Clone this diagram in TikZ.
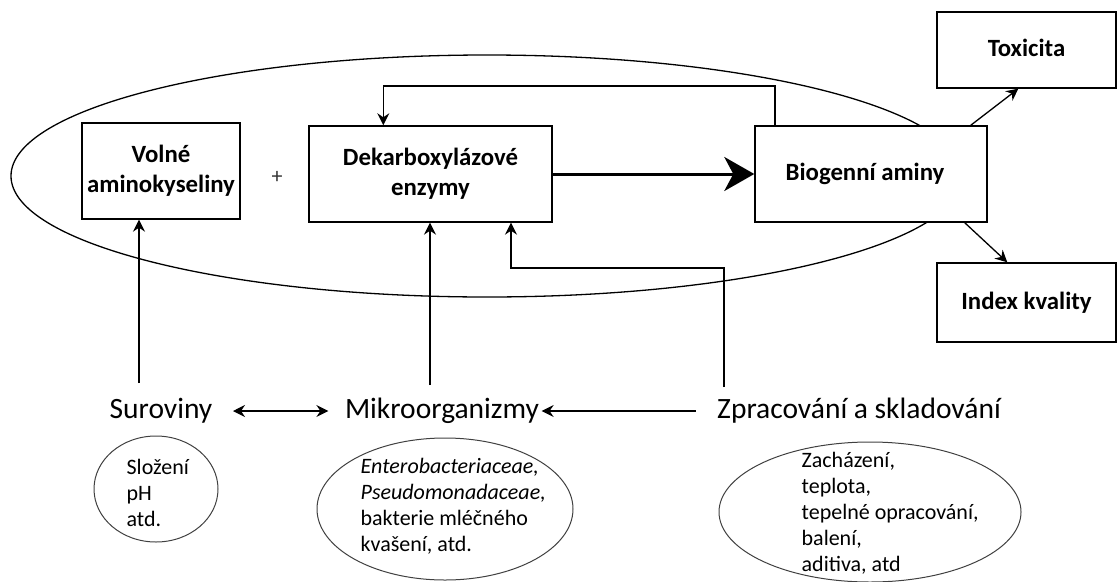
\documentclass[tikz,border=0pt]{standalone}
\usepackage{fontspec}
\setmainfont{Carlito}
\usetikzlibrary{arrows.meta,shapes.geometric,calc}
\begin{document}
\begin{tikzpicture}[x=1pt,y=-1pt,
  line width=1.3pt,
  box/.style={draw,fill=white,line width=1.4pt,align=center,inner sep=0pt,
    font=\fontsize{24.8}{30}\selectfont\bfseries},
  lbl/.style={inner sep=0pt,font=\fontsize{29.5}{32}\selectfont},
  small/.style={inner sep=0pt,align=left,font=\fontsize{22}{26}\selectfont},
  sell/.style={draw=black!75,line width=1pt},
  arr/.style={-{Stealth[length=12pt,width=12pt,inset=4pt]}},
  darr/.style={{Stealth[length=12pt,width=12pt,inset=4pt]}-{Stealth[length=12pt,width=12pt,inset=4pt]}},
  bigarr/.style={line width=3pt,-{Stealth[length=30pt,width=34pt,inset=9pt]}}]
\useasboundingbox (0,0) rectangle (1118,581);
% big ellipse
\draw (487,176) ellipse [x radius=476, y radius=121];
% boxes
\node[box,minimum width=158pt,minimum height=96pt] (vol) at (161,171) {Volné\\aminokyseliny};
\node[font=\fontsize{22}{24}\selectfont,text=black!80] (plus) at (277,177) {+};
\node[box,minimum width=243pt,minimum height=96pt] (dek) at (430.5,174) {Dekarboxylázové\\enzymy};
\node[box,minimum width=232pt,minimum height=96pt] (bio) at (871,174) {\raisebox{3pt}{Biogenní aminy}\hspace*{12pt}};
\node[box,minimum width=179pt,minimum height=76pt] (tox) at (1026.5,50) {\raisebox{5pt}{Toxicita}};
\node[box,minimum width=179pt,minimum height=79pt] (idx) at (1026.5,302.5) {Index kvality};
% main arrow
\draw[bigarr] (dek.east) -- (bio.west);
% feedback
\coordinate (fb) at (775,86);
\draw[arr] (fb |- bio.north) -- (fb) -| ($(dek.north west)+(75,0)$);
% outputs
\draw[arr] ($(bio.north east)+(-17,0)$) -- ($(tox.south west)+(82,0)$);
\draw[arr] ($(bio.south east)+(-23,0)$) -- ($(idx.north west)+(71,0)$);
% bottom labels
\node[lbl] (sur) at (161,411) {Suroviny};
\node[lbl] (mik) at (442,411) {Mikroorganizmy};
\node[lbl] (zpr) at (859,411) {Zpracování a skladování};
% vertical arrows
\coordinate (s1) at (139,383);
\draw[arr] (s1) -- (s1 |- vol.south);
\coordinate (m1) at (430,385);
\draw[arr] (m1) -- (m1 |- dek.south);
\coordinate (z1) at (724,387);
\coordinate (z2) at (511,268);
\draw[arr] (z1) |- (z2) -- (z2 |- dek.south);
% horizontal arrows
\draw[darr] ([xshift=20pt]sur.east) -- ([xshift=-16pt]mik.west);
\draw[arr] ([xshift=-21pt]zpr.west) -- ([xshift=2pt]mik.east);
% small ellipses
\node[sell,ellipse,minimum width=124pt,minimum height=106pt] (e1) at (156,489) {};
\node[small,anchor=west] (t1) at (126,493) {Složení\\pH\\atd.};
\node[sell,ellipse,minimum width=256pt,minimum height=142pt] (e2) at (445,509) {};
\node[small,anchor=west] (t2) at (360,506) {\itshape Enterobacteriaceae,\\\itshape Pseudomonadaceae,\\bakterie mléčného\\kvašení, atd.};
\node[sell,ellipse,minimum width=302pt,minimum height=140pt] (e3) at (870,512) {};
\node[small,anchor=west] (t3) at (801,513.5) {Zacházení,\\teplota,\\tepelné opracování,\\balení,\\aditiva, atd};
\end{tikzpicture}
\end{document}
